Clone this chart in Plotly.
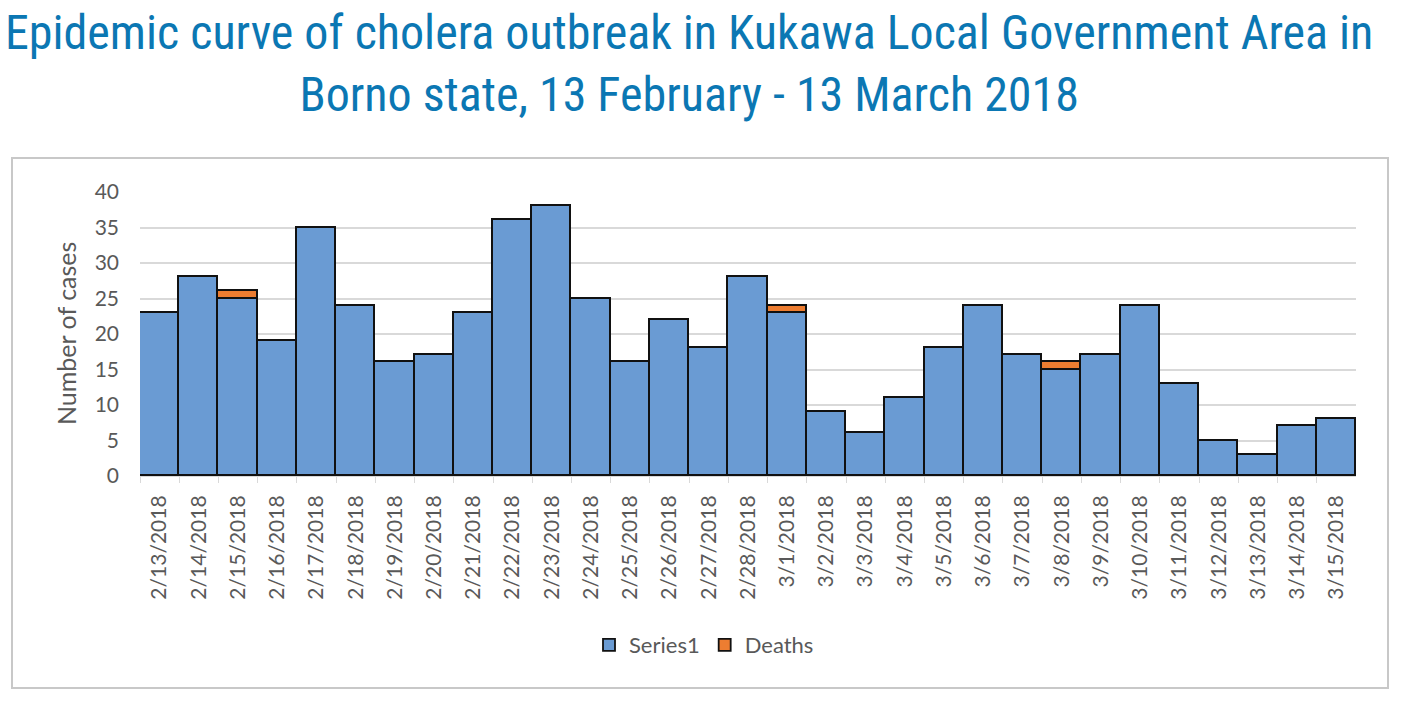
import plotly.graph_objects as go

dates = ["2/13/2018", "2/14/2018", "2/15/2018", "2/16/2018", "2/17/2018", "2/18/2018",
         "2/19/2018", "2/20/2018", "2/21/2018", "2/22/2018", "2/23/2018", "2/24/2018",
         "2/25/2018", "2/26/2018", "2/27/2018", "2/28/2018", "3/1/2018", "3/2/2018",
         "3/3/2018", "3/4/2018", "3/5/2018", "3/6/2018", "3/7/2018", "3/8/2018",
         "3/9/2018", "3/10/2018", "3/11/2018", "3/12/2018", "3/13/2018", "3/14/2018",
         "3/15/2018"]
cases = [23, 28, 25, 19, 35, 24, 16, 17, 23, 36, 38, 25, 16, 22, 18, 28, 23, 9,
         6, 11, 18, 24, 17, 15, 17, 24, 13, 5, 3, 7, 8]
deaths = [0, 0, 1, 0, 0, 0, 0, 0, 0, 0, 0, 0, 0, 0, 0, 0, 1, 0,
          0, 0, 0, 0, 0, 1, 0, 0, 0, 0, 0, 0, 0]
y_ticks = [0, 5, 10, 15, 20, 25, 30, 35, 40]

W, H = 1408, 706
FONT = "Lato, Open Sans, sans-serif"

fig = go.Figure()
fig.add_trace(go.Bar(x=dates, y=cases, name="Series1",
                     marker=dict(color="#6a9bd3", line=dict(color="#111111", width=1.8))))
fig.add_trace(go.Bar(x=dates, y=deaths, name="Deaths",
                     marker=dict(color="#ed7d31", line=dict(color="#111111", width=1.8))))

fig.update_layout(
    width=W, height=H,
    autosize=False,
    margin=dict(l=0, r=0, t=0, b=0, pad=0, autoexpand=False),
    paper_bgcolor="white", plot_bgcolor="white",
    barmode="stack", bargap=0,
    font=dict(family=FONT, color="#595959"),
    showlegend=True,
    legend=dict(orientation="h", x=0.5, xanchor="center", y=1 - 645 / H, yanchor="middle",
                font=dict(size=22, color="#595959"), traceorder="normal"),
    xaxis=dict(domain=[140 / W, 1356 / W], type="category", automargin=False,
               tickangle=-90, tickfont=dict(size=21, color="#595959"),
               ticks="outside", tickson="boundaries", ticklen=6, tickcolor="#d9d9d9",
               showline=True, linecolor="#d9d9d9", showgrid=False,
               ticklabelstandoff=10),
    yaxis=dict(domain=[1 - 476 / H, 1 - 192 / H], range=[0, 40], automargin=False,
               tickvals=y_ticks, tickfont=dict(size=21, color="#595959"),
               showgrid=True, gridcolor="#d9d9d9", gridwidth=1.5,
               zeroline=False, showline=False, ticklabelstandoff=20),
    annotations=[
        dict(text="Epidemic curve of cholera outbreak in Kukawa Local Government Area in<br>"
                  "Borno state, 13 February - 13 March 2018",
             x=689 / W, y=1 - 2 / H, xref="paper", yref="paper",
             xanchor="center", yanchor="top", showarrow=False,
             font=dict(family="Liberation Sans Narrow, Roboto Condensed, Arial Narrow, sans-serif",
                       size=48, color="#0b77b3")),
        dict(text="Number of cases", x=66 / W, y=1 - 334 / H, xref="paper", yref="paper",
             xanchor="center", yanchor="middle", textangle=-90, showarrow=False,
             font=dict(family=FONT, size=25, color="#595959")),
    ],
    shapes=[dict(type="rect", xref="paper", yref="paper",
                 x0=12 / W, x1=1388 / W, y0=1 - 688 / H, y1=1 - 158 / H,
                 line=dict(color="#c8c8c8", width=2), layer="below")],
)

fig.write_html("out.html",
               config={"displayModeBar": False},
               post_script="document.body.style.margin='0px';"
                           "document.body.style.overflow='hidden';")
